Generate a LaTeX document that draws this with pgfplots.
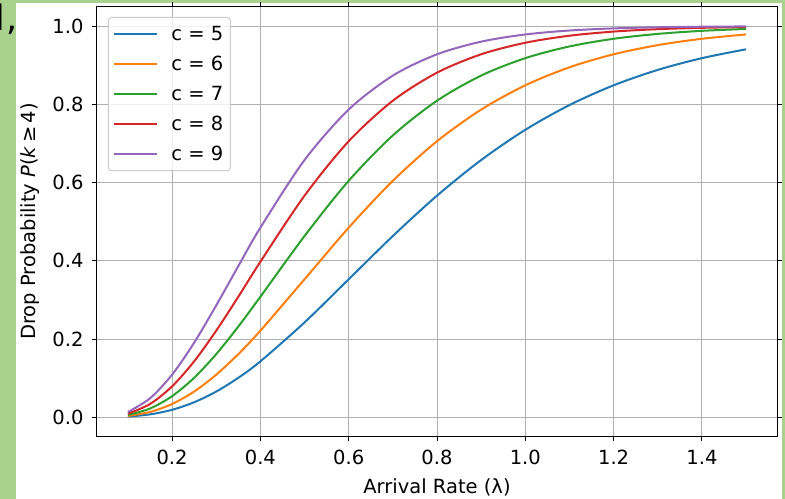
\documentclass[border=0pt]{standalone}
\usepackage{fontspec}
\setmainfont{DejaVu Sans}[ItalicFont={DejaVu Sans Oblique}]
\usepackage{pgfplots}
\pgfplotsset{compat=1.18}

\definecolor{tabblue}{HTML}{1F77B4}
\definecolor{taborange}{HTML}{FF7F0E}
\definecolor{tabgreen}{HTML}{2CA02C}
\definecolor{tabred}{HTML}{D62728}
\definecolor{tabpurple}{HTML}{9467BD}
\definecolor{framegreen}{HTML}{A9D18E}

\newcommand\chartfont{\fontsize{19.5bp}{23bp}\selectfont}

\begin{document}
\begin{tikzpicture}
% page frame: green strip left/top/right, as in the screenshot
\useasboundingbox (-97bp,-63bp) rectangle (688bp,436bp);
\fill[framegreen] (-97bp,-63bp) rectangle (688bp,436bp);
\fill[white] (-81bp,-63bp) rectangle (685bp,433bp);
\node[anchor=base west, inner sep=0pt, font=\fontsize{35bp}{40bp}\selectfont] at (-102bp,405bp) {l};
\node[anchor=base west, inner sep=0pt, font=\fontsize{35bp}{40bp}\selectfont] at (-91bp,405bp) {,};

\begin{axis}[
    at={(0,0)}, anchor=south west,
    scale only axis,
    width=680bp, height=429bp,
    xmin=0.03, xmax=1.57,
    ymin=-0.048, ymax=1.049,
    xtick={0.2,0.4,0.6,0.8,1.0,1.2,1.4},
    ytick={0,0.2,0.4,0.6,0.8,1.0},
    /pgf/number format/assume math mode=true,
    xticklabel style={/pgf/number format/.cd, fixed, fixed zerofill, precision=1, /tikz/.cd, yshift=-6bp},
    yticklabel style={/pgf/number format/.cd, fixed, fixed zerofill, precision=1, /tikz/.cd, xshift=-5bp},
    tick label style={font=\chartfont},
    label style={font=\chartfont},
    xlabel={Arrival Rate (λ)},
    ylabel={Drop Probability \textit{P}(\textit{k}\,≥\,4)},
    xlabel style={at={(axis description cs:0.5,-0.119)}, anchor=center},
    ylabel style={at={(axis description cs:-0.0985,0.5)}, anchor=center, rotate=0},
    grid=major,
    grid style={color=black!31, line width=1bp},
    axis line style={black, line width=1bp},
    tick style={black, line width=1bp},
    tick align=outside,
    major tick length=5bp,
    legend cell align=left,
    legend style={at={(0,1)}, anchor=north west, xshift=11bp, yshift=-10bp,
        draw=black!20, line width=1bp, rounded corners=3bp,
        fill=white, fill opacity=0.8, text opacity=1,
        font=\chartfont, row sep=10bp, inner xsep=5bp, inner ysep=7bp,
        /tikz/every odd column/.append style={column sep=11bp}},
    legend image code/.code={\draw[#1, line width=2bp] (0bp,0bp) -- (43bp,0bp);},
]

\addplot[tabblue, line width=2bp, smooth] coordinates {
    (0.1,0.00175)(0.15,0.00729)(0.2,0.01899)(0.25,0.03827)(0.3,0.06564)(0.35,0.10081)
    (0.4,0.14288)(0.5,0.24242)
    (0.6,0.35277)(0.7,0.46337)(0.8,0.56652)(0.9,0.65770)(1.0,0.73497)
    (1.1,0.79829)(1.2,0.84878)(1.3,0.88815)(1.4,0.91822)(1.5,0.94085)
};
\addlegendentry{c = 5}

\addplot[taborange, line width=2bp, smooth] coordinates {
    (0.1,0.00336)(0.15,0.01346)(0.2,0.03377)(0.25,0.06564)(0.3,0.10871)(0.35,0.16136)
    (0.4,0.22128)(0.5,0.35277)
    (0.6,0.48478)(0.7,0.60459)(0.8,0.70577)(0.9,0.78669)(1.0,0.84878)
    (1.1,0.89485)(1.2,0.92808)(1.3,0.95152)(1.4,0.96774)(1.5,0.97877)
};
\addlegendentry{c = 6}

\addplot[tabgreen, line width=2bp, smooth] coordinates {
    (0.1,0.00575)(0.15,0.02221)(0.2,0.05372)(0.25,0.10081)(0.3,0.16136)(0.35,0.23179)
    (0.4,0.30806)(0.5,0.46337)
    (0.6,0.60459)(0.7,0.72064)(0.8,0.80937)(0.9,0.87363)(1.0,0.91823)
    (1.1,0.94818)(1.2,0.96774)(1.3,0.98022)(1.4,0.98804)(1.5,0.99285)
};
\addlegendentry{c = 7}

\addplot[tabred, line width=2bp, smooth] coordinates {
    (0.1,0.00908)(0.15,0.03377)(0.2,0.07881)(0.25,0.14288)(0.3,0.22128)(0.35,0.30806)
    (0.4,0.39748)(0.5,0.56652)
    (0.6,0.70577)(0.7,0.80937)(0.8,0.88108)(0.9,0.92808)(1.0,0.95762)
    (1.1,0.97557)(1.2,0.98617)(1.3,0.99230)(1.4,0.99577)(1.5,0.99771)
};
\addlegendentry{c = 8}

\addplot[tabpurple, line width=2bp, smooth] coordinates {
    (0.1,0.01346)(0.15,0.04825)(0.2,0.10871)(0.25,0.19057)(0.3,0.28590)(0.35,0.38634)
    (0.4,0.48478)(0.5,0.65770)
    (0.6,0.78669)(0.7,0.87363)(0.8,0.92808)(0.9,0.96039)(1.0,0.97877)
    (1.1,0.98888)(1.2,0.99429)(1.3,0.99711)(1.4,0.99856)(1.5,0.99929)
};
\addlegendentry{c = 9}

\end{axis}
\end{tikzpicture}
\end{document}
